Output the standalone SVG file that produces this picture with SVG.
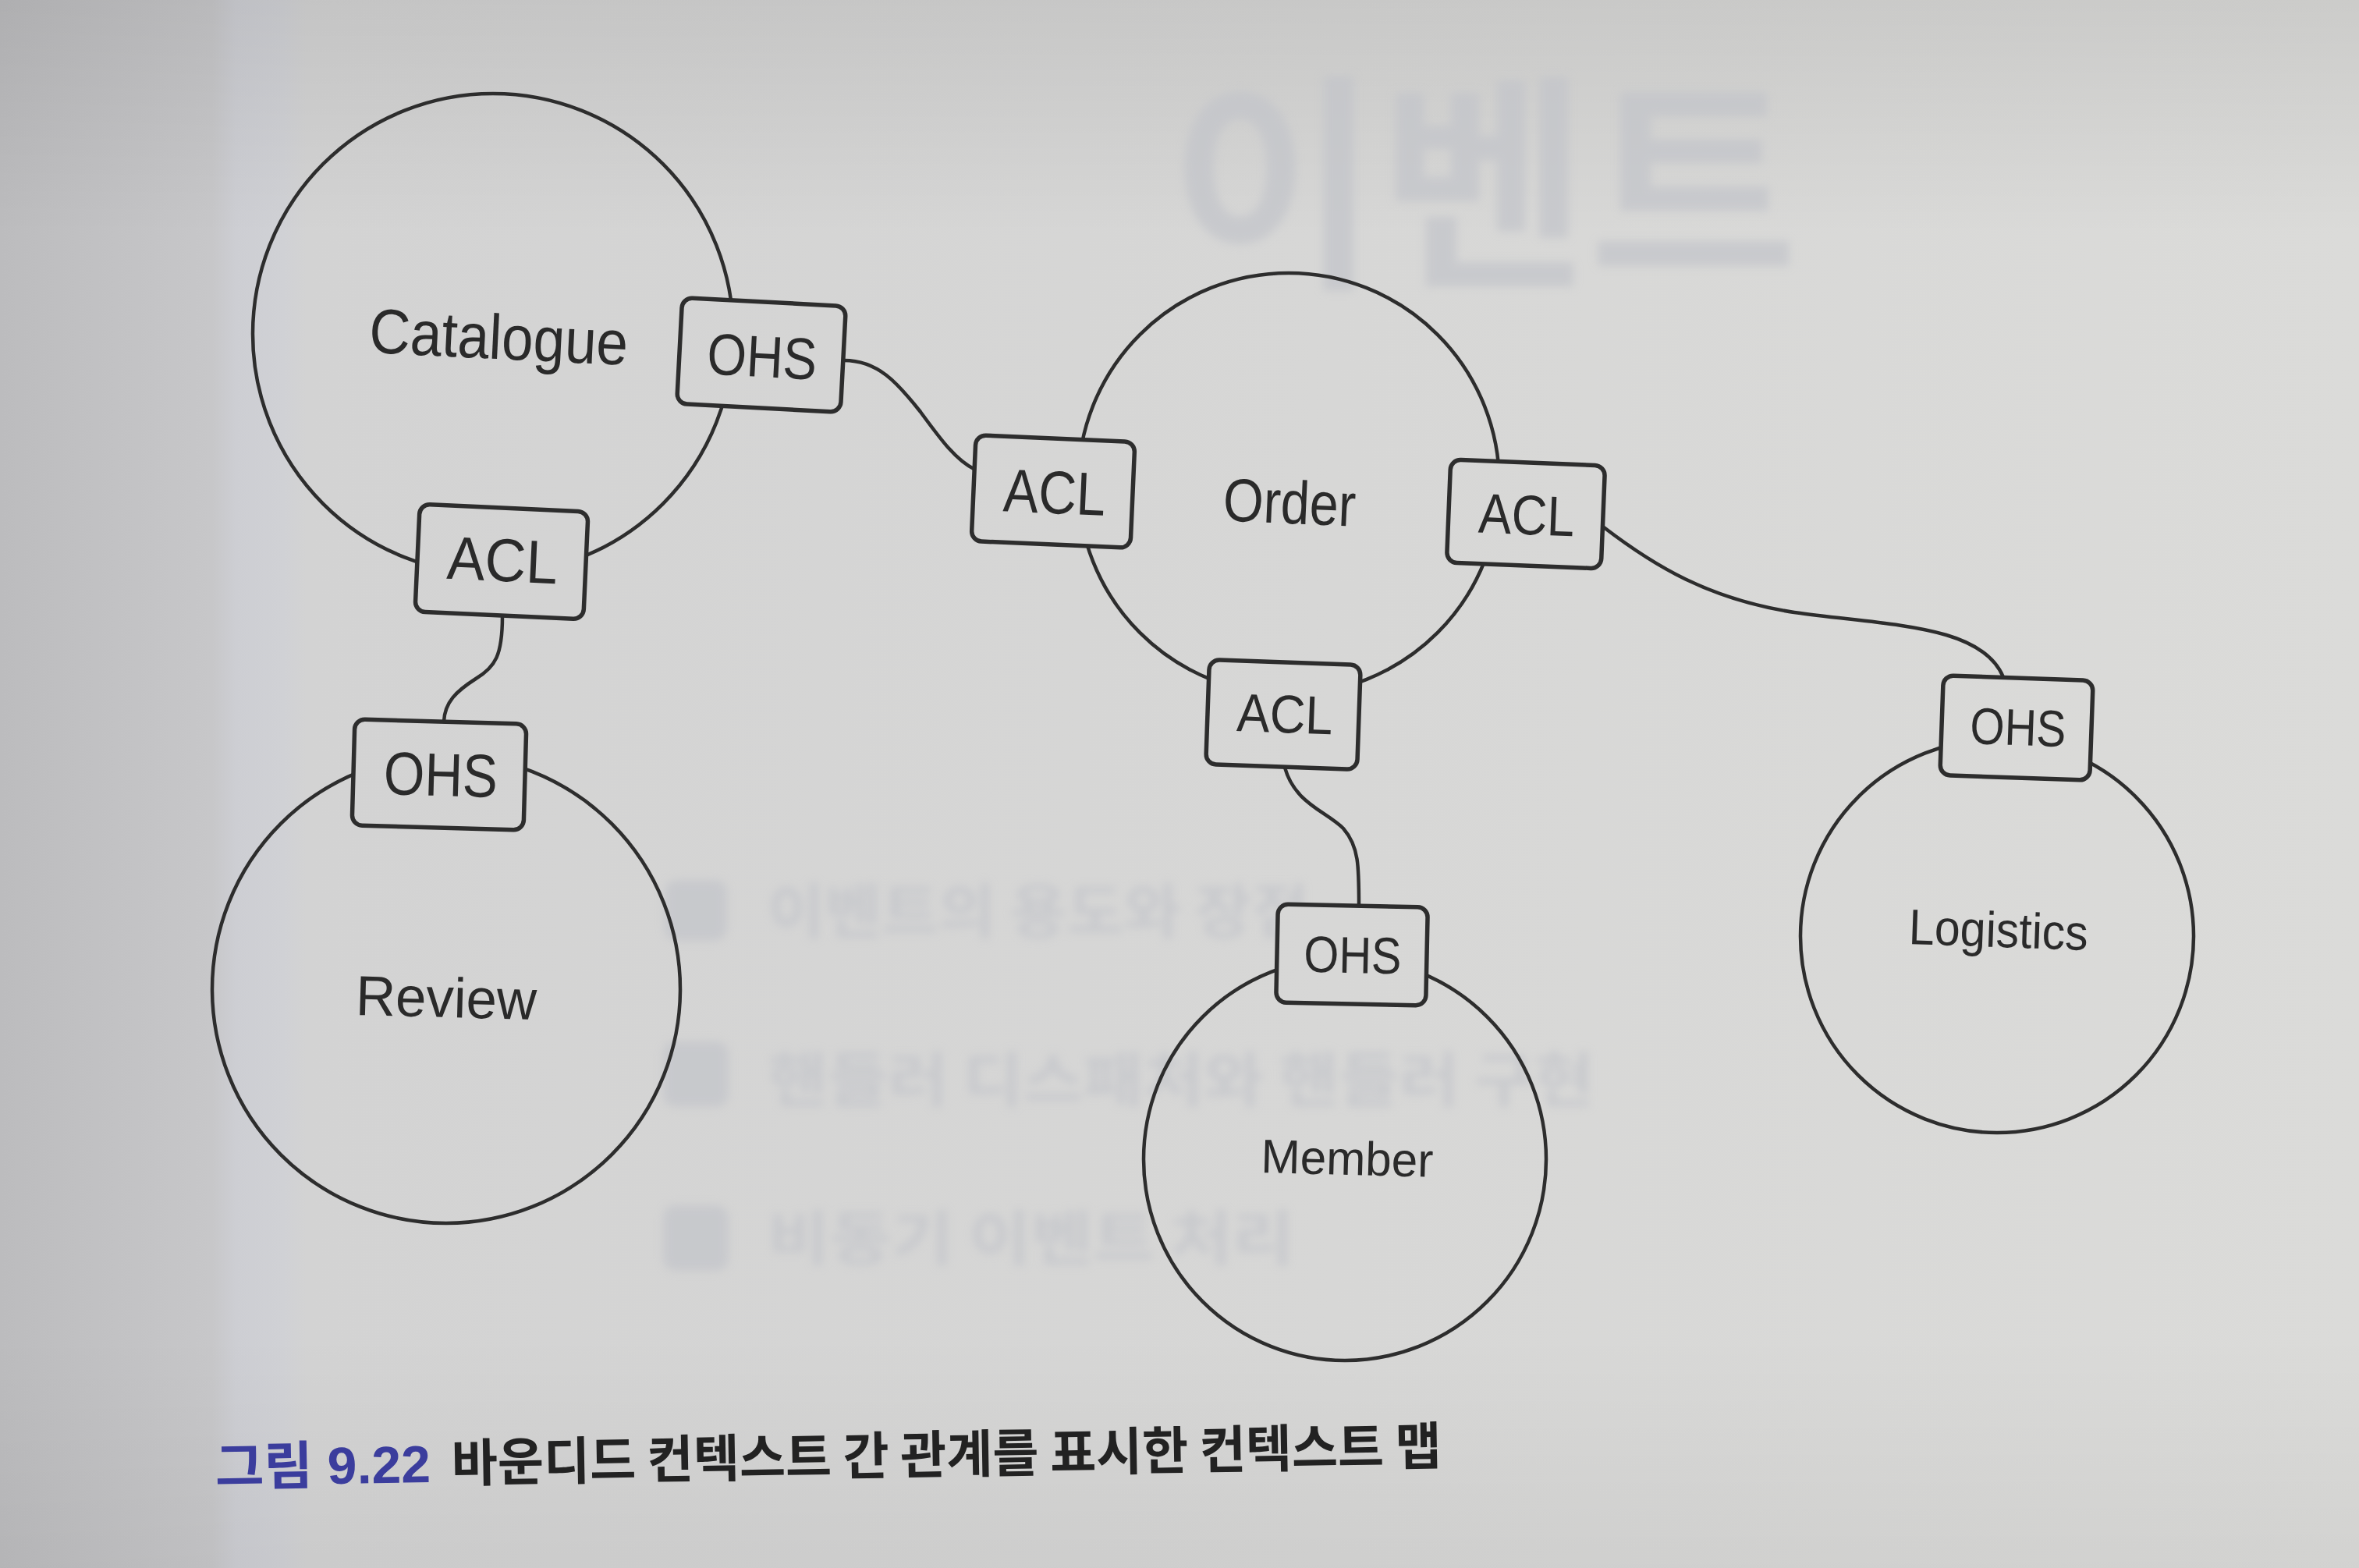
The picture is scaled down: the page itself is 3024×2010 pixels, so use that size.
<svg xmlns="http://www.w3.org/2000/svg" width="3024" height="2010" viewBox="0 0 3024 2010">
<defs>
<linearGradient id="bgH" x1="0" y1="0" x2="3024" y2="0" gradientUnits="userSpaceOnUse">
<stop offset="0" stop-color="#bcbcbe"/>
<stop offset="0.09" stop-color="#c7c7c9"/>
<stop offset="0.1" stop-color="#cdced3"/>
<stop offset="0.12" stop-color="#d0d1d5"/>
<stop offset="0.13" stop-color="#d3d3d3"/>
<stop offset="1" stop-color="#dbdbd9"/>
</linearGradient>
<linearGradient id="bgV" x1="0" y1="0" x2="0" y2="2010" gradientUnits="userSpaceOnUse">
<stop offset="0" stop-color="#000" stop-opacity="0.07"/>
<stop offset="0.15" stop-color="#000" stop-opacity="0"/>
<stop offset="0.85" stop-color="#000" stop-opacity="0"/>
<stop offset="1" stop-color="#000" stop-opacity="0.04"/>
</linearGradient>
<filter id="blur" x="-10%" y="-20%" width="120%" height="140%"><feGaussianBlur stdDeviation="6"/></filter>
</defs>
<style>
.ctx { fill: none; stroke: #2d2d2d; stroke-width: 4.5; }
.port { fill: url(#bgH); stroke: #2d2d2d; stroke-width: 5.5; }
.conn { fill: none; stroke: #2d2d2d; stroke-width: 4.5; stroke-linecap: round; }
.lbl { font-family: "Liberation Sans", Arial, Helvetica, sans-serif; fill: #2a2a2a; text-anchor: middle; }
.cap { font-family: "Liberation Sans", "Noto Sans CJK KR", sans-serif; font-weight: 700; }
.ghost { font-family: "Noto Sans CJK KR", sans-serif; font-weight: 700; fill: #c3c5ca; }
</style>

<g id="background">
<rect x="0" y="0" width="3024" height="2010" fill="url(#bgH)"/>
<rect x="0" y="0" width="3024" height="2010" fill="url(#bgV)"/>
</g>

<g id="show-through" filter="url(#blur)" opacity="0.72">
<text class="ghost" x="1499" y="346" font-size="296" textLength="806" lengthAdjust="spacingAndGlyphs">이벤트</text>
<rect x="852" y="1128" width="80" height="78" rx="16" fill="#c3c5ca"/>
<rect x="850" y="1335" width="84" height="84" rx="16" fill="#c3c5ca"/>
<rect x="850" y="1545" width="84" height="84" rx="16" fill="#c3c5ca"/>
<text class="ghost" x="984" y="1196" font-size="76" textLength="694" lengthAdjust="spacingAndGlyphs">이벤트의 용도와 장점</text>
<text class="ghost" x="984" y="1412" font-size="76" textLength="1060" lengthAdjust="spacingAndGlyphs">핸들러 디스패처와 핸들러 구현</text>
<text class="ghost" x="984" y="1615" font-size="76" textLength="675" lengthAdjust="spacingAndGlyphs">비동기 이벤트 처리</text>
</g>

<g id="connectors">
<path class="conn" d="M1082,462 C1125,462 1150,490 1180,528 C1205,562 1225,590 1250,602"/>
<path class="conn" d="M644,790 C644,840 635,855 610,870 C585,886 570,900 569,925"/>
<path class="conn" d="M2056,676 C2120,725 2190,768 2300,785 C2420,802 2540,800 2568,868"/>
<path class="conn" d="M1647,984 C1660,1030 1700,1040 1722,1062 C1742,1085 1742,1110 1742,1162"/>
</g>

<g id="catalogue">
<circle class="ctx" cx="632" cy="428" r="308"/>
<text class="lbl" x="639" y="460" font-size="81" textLength="332" lengthAdjust="spacingAndGlyphs" transform="rotate(2.8 639 440)">Catalogue</text>
</g>
<g id="review">
<circle class="ctx" cx="572" cy="1268" r="300"/>
<text class="lbl" x="572" y="1304" font-size="72" textLength="232" lengthAdjust="spacingAndGlyphs" transform="rotate(1.5 572 1280)">Review</text>
</g>
<g id="order">
<circle class="ctx" cx="1652" cy="620" r="270"/>
<text class="lbl" x="1653" y="671" font-size="78" textLength="170" lengthAdjust="spacingAndGlyphs" transform="rotate(2.5 1653 645)">Order</text>
</g>
<g id="member">
<circle class="ctx" cx="1724" cy="1486" r="258"/>
<text class="lbl" x="1727" y="1506" font-size="61" textLength="221" lengthAdjust="spacingAndGlyphs" transform="rotate(1.5 1727 1485)">Member</text>
</g>
<g id="logistics">
<circle class="ctx" cx="2560" cy="1200" r="252"/>
<text class="lbl" x="2562" y="1214" font-size="64" textLength="230" lengthAdjust="spacingAndGlyphs" transform="rotate(2 2562 1192)">Logistics</text>
</g>

<g id="catalogue-ohs" transform="rotate(3 976 455)">
<rect class="port" x="871" y="387" width="210" height="136" rx="13"/>
<text class="lbl" x="977" y="483" font-size="75" textLength="141" lengthAdjust="spacingAndGlyphs">OHS</text>
</g>
<g id="catalogue-acl" transform="rotate(2.6 643 720)">
<rect class="port" x="535" y="651" width="216" height="138" rx="13"/>
<text class="lbl" x="644" y="745" font-size="78" textLength="142" lengthAdjust="spacingAndGlyphs">ACL</text>
</g>
<g id="review-ohs" transform="rotate(1.6 563 993)">
<rect class="port" x="453" y="925" width="220" height="136" rx="13"/>
<text class="lbl" x="565" y="1020" font-size="78" textLength="146" lengthAdjust="spacingAndGlyphs">OHS</text>
</g>
<g id="order-acl-left" transform="rotate(2.5 1350 630)">
<rect class="port" x="1248" y="562" width="204" height="136" rx="13"/>
<text class="lbl" x="1352" y="658" font-size="78" textLength="131" lengthAdjust="spacingAndGlyphs">ACL</text>
</g>
<g id="order-acl-right" transform="rotate(2.3 1956 659)">
<rect class="port" x="1857" y="593" width="198" height="132" rx="13"/>
<text class="lbl" x="1957" y="685" font-size="72" textLength="123" lengthAdjust="spacingAndGlyphs">ACL</text>
</g>
<g id="order-acl-bottom" transform="rotate(2 1645 916)">
<rect class="port" x="1548" y="849" width="194" height="134" rx="13"/>
<text class="lbl" x="1647" y="939" font-size="69" textLength="123" lengthAdjust="spacingAndGlyphs">ACL</text>
</g>
<g id="member-ohs" transform="rotate(1.2 1733 1224)">
<rect class="port" x="1637" y="1161" width="192" height="126" rx="13"/>
<text class="lbl" x="1734" y="1247" font-size="66" textLength="125" lengthAdjust="spacingAndGlyphs">OHS</text>
</g>
<g id="logistics-ohs" transform="rotate(2 2585 933)">
<rect class="port" x="2489" y="869" width="192" height="128" rx="13"/>
<text class="lbl" x="2587" y="955" font-size="66" textLength="123" lengthAdjust="spacingAndGlyphs">OHS</text>
</g>

<g id="caption" transform="rotate(-1 1060 1880)">
<text class="cap" x="276" y="1891" font-size="67" fill="#3b3d9d" textLength="276" lengthAdjust="spacingAndGlyphs">그림 9.22</text>
<text class="cap" x="579" y="1891" font-size="66" fill="#222222" textLength="1269" lengthAdjust="spacingAndGlyphs" style="font-family: 'Noto Sans CJK KR', sans-serif">바운디드 컨텍스트 간 관계를 표시한 컨텍스트 맵</text>
</g>
</svg>
